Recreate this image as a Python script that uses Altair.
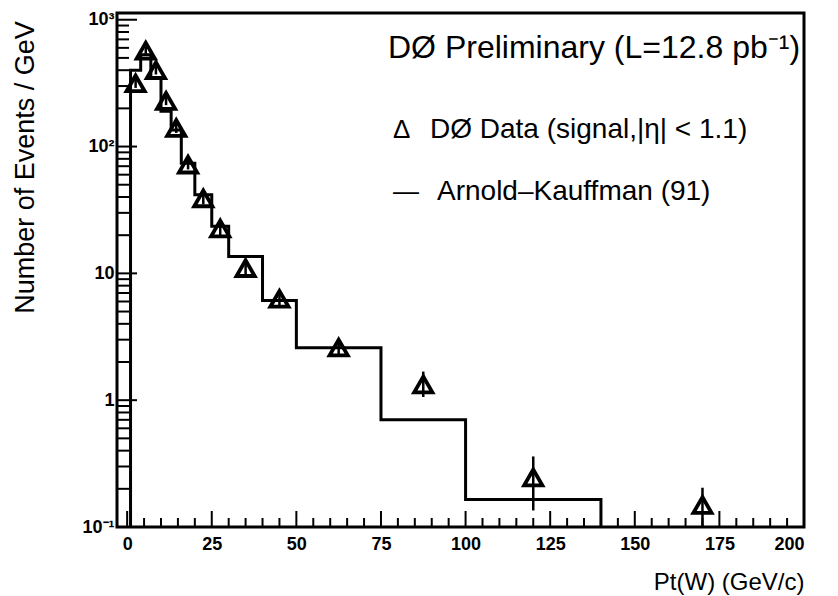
import altair as alt
import pandas as pd

# ---- data ----
pt_data = [2.5, 5.5, 8.5, 11.5, 14.5, 18, 22.5, 27.5, 35, 45, 62.5, 87.5, 120, 170]
n_data = [315, 570, 400, 229, 140, 72, 39, 22.6, 11.0, 6.3, 2.6, 1.33, 0.246, 0.149]
err_lo = [290, 530, 370, 212, 128, 66, 35, 20.0, 9.6, 5.4, 2.2, 1.06, 0.135, 0.1]
err_hi = [340, 610, 430, 246, 152, 78, 43, 25.2, 12.4, 7.2, 3.0, 1.68, 0.36, 0.204]

ak_edges = [1, 4, 7, 10, 13, 16, 20, 25, 30, 40, 50, 75, 100, 140]
ak_values = [400, 530, 350, 190, 135, 74, 41.7, 23.5, 13.6, 6.1, 2.59, 0.70, 0.165]

y_major = [0.1, 1, 10, 100, 1000]
y_minor = [m * d for d in [0.1, 1, 10, 100] for m in range(2, 10)]
x_major = [0, 25, 50, 75, 100, 125, 150, 175, 200]
x_minor = [v for v in range(5, 200, 5) if v % 25 != 0]

Y_BOTTOM = 0.1
X_DOM = [-3, 200]
Y_DOM = [0.1, 1130]
W, H = 687, 514
FONT = "Liberation Sans"

df_pts = pd.DataFrame({"pt": pt_data, "n": n_data, "lo": err_lo, "hi": err_hi})

hx = [ak_edges[0]] + ak_edges[:-1] + [ak_edges[-1]]
hy = [Y_BOTTOM] + ak_values + [Y_BOTTOM]
df_hist = pd.DataFrame({"x": hx, "y": hy, "i": list(range(len(hx)))})

xs = alt.Scale(domain=X_DOM, nice=False, zero=False)
ys = alt.Scale(type="log", domain=Y_DOM, nice=False)

label_expr = ("datum.value >= 1000 ? '10³' : datum.value >= 100 ? '10²' : "
              "datum.value >= 10 ? '10' : datum.value >= 1 ? '1' : '10⁻¹'")

hist = alt.Chart(df_hist).mark_line(
    interpolate="step-after", color="black", strokeWidth=3, clip=True
).encode(
    x=alt.X("x:Q", scale=xs, axis=alt.Axis(
        values=x_major, format="d", title="Pt(W) (GeV/c)",
        labelFont=FONT, labelFontSize=18, labelFontWeight="bold", labelColor="black",
        labelPadding=8, ticks=False, domain=False, grid=False,
        titleFont=FONT, titleFontSize=24, titleFontWeight="normal", titleColor="black",
        titleAnchor="end", titleAlign="right", titleX=W, titleY=62, titleBaseline="alphabetic")),
    y=alt.Y("y:Q", scale=ys, axis=alt.Axis(
        values=y_major, labelExpr=label_expr, title="Number of Events / GeV",
        labelFont=FONT, labelFontSize=18, labelFontWeight="bold", labelColor="black",
        labelPadding=3, ticks=False, domain=False, grid=False,
        titleFont=FONT, titleFontSize=27, titleFontWeight="normal", titleColor="black",
        titleX=-84, titleY=154, titleAlign="center", titleBaseline="alphabetic", titleAngle=-90)),
    order=alt.Order("i:Q"),
)

errbars = alt.Chart(df_pts).mark_rule(color="black", strokeWidth=2.5, clip=True).encode(
    x=alt.X("pt:Q", scale=xs), y=alt.Y("lo:Q", scale=ys), y2="hi:Q")

points = alt.Chart(df_pts).mark_point(
    shape="triangle-up", filled=False, color="black", strokeWidth=3.8, size=330, opacity=1
).encode(x=alt.X("pt:Q", scale=xs), y=alt.Y("n:Q", scale=ys))

# inward ticks
ymaj = alt.Chart(pd.DataFrame({"v": y_major})).mark_rule(color="black", strokeWidth=2).encode(
    y=alt.Y("v:Q", scale=ys), x=alt.value(0), x2=alt.value(20))
ymin = alt.Chart(pd.DataFrame({"v": y_minor})).mark_rule(color="black", strokeWidth=2).encode(
    y=alt.Y("v:Q", scale=ys), x=alt.value(0), x2=alt.value(12))
xmaj = alt.Chart(pd.DataFrame({"v": x_major})).mark_rule(color="black", strokeWidth=2).encode(
    x=alt.X("v:Q", scale=xs), y=alt.value(H), y2=alt.value(H - 16))
xmin = alt.Chart(pd.DataFrame({"v": x_minor})).mark_rule(color="black", strokeWidth=2).encode(
    x=alt.X("v:Q", scale=xs), y=alt.value(H), y2=alt.value(H - 9))

def label(text, px, py, size):
    return alt.Chart(pd.DataFrame({"t": [text]})).mark_text(
        align="left", baseline="alphabetic", font=FONT, fontSize=size, color="black"
    ).encode(text="t:N", x=alt.value(px), y=alt.value(py))

ann = [
    label("DØ Preliminary (L=12.8 pb⁻¹)", 271, 45, 32),
    label("Δ", 276, 125, 26),
    label("DØ Data (signal,|η|  < 1.1)", 313, 125, 28),
    label("—", 276, 187, 26),
    label("Arnold–Kauffman (91)", 320, 187, 28),
]

chart = alt.layer(hist, errbars, points, ymaj, ymin, xmaj, xmin, *ann).properties(
    width=W, height=H,
    padding={"left": 117, "top": 13, "right": 34, "bottom": 69},
    autosize="none", background="white",
).configure_view(stroke="black", strokeWidth=3)

chart.save("out.html", embed_options={"renderer": "svg", "actions": False})
